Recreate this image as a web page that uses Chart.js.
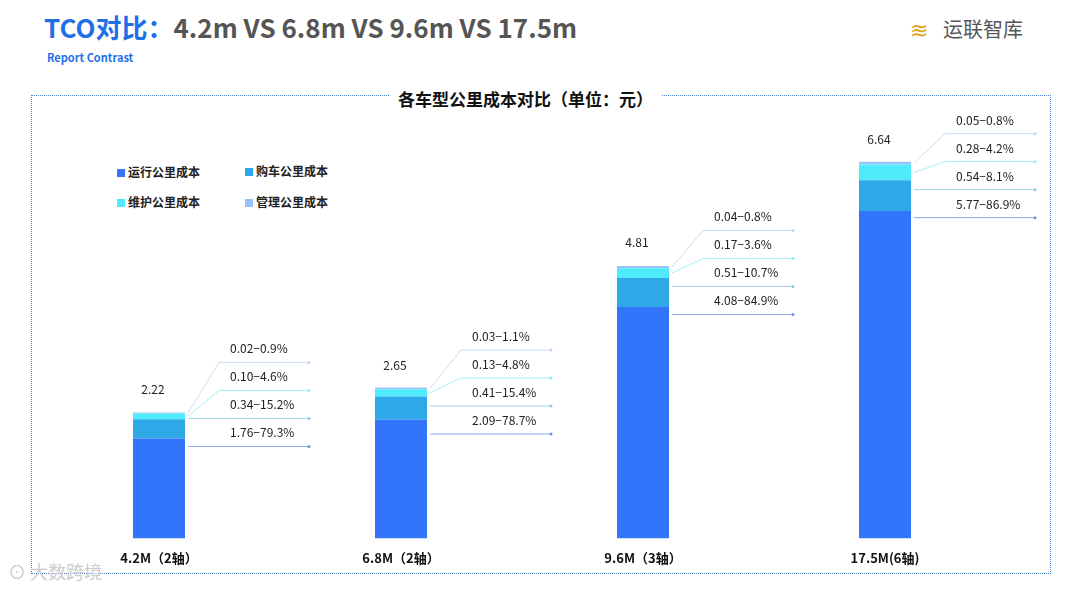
<!DOCTYPE html>
<html><head><meta charset="utf-8">
<script src="https://cdn.jsdelivr.net/npm/chart.js@4"></script>
<style>
body{margin:0;width:1080px;height:589px;background:#fff;font-family:"Noto Sans CJK SC","Noto Sans",sans-serif;position:relative;overflow:hidden}
#c{position:absolute;left:0;top:0}
.abs{position:absolute;white-space:nowrap}
.box{position:absolute;left:31px;top:95px;width:1018px;height:477px;border:1px dotted #4a7fc8}
.lg{position:absolute;font-size:12px;font-weight:bold;color:#222}
.lg i{display:inline-block;width:8px;height:8px;margin-right:3px;vertical-align:0}
</style></head><body>
<div class="box"></div>
<div class="abs" style="left:44px;top:8px;font-size:26px;font-weight:bold;color:#1F6FE8">TCO对比：<span style="color:#555">4.2m VS 6.8m VS 9.6m VS 17.5m</span></div>
<div class="abs" style="left:47px;top:49px;font-size:11px;font-weight:bold;color:#1F6FE8">Report Contrast</div>
<div class="abs" style="left:943px;top:14px;font-size:20px;color:#555">运联智库</div>
<div class="abs" style="left:910px;top:12px;font-size:22px;color:#e0a020">≋</div>
<div class="abs" style="left:390px;top:86px;font-size:17px;font-weight:bold;color:#111;background:#fff;padding:0 8px">各车型公里成本对比（单位：元）</div>
<div class="lg" style="left:117px;top:163px"><i style="background:#3275FA"></i>运行公里成本</div>
<div class="lg" style="left:245px;top:162px"><i style="background:#2FA8E8"></i>购车公里成本</div>
<div class="lg" style="left:117px;top:193px"><i style="background:#4DEBFB"></i>维护公里成本</div>
<div class="lg" style="left:245px;top:193px"><i style="background:#9CC3F7"></i>管理公里成本</div>
<div class="abs" style="left:8px;top:558px;font-size:18px;color:#ccc">⊙ 大数跨境</div>
<canvas id="c" width="1080" height="589"></canvas>
<script>
const categories=["4.2M（2轴）","6.8M（2轴）","9.6M（3轴）","17.5M(6轴)"];
const runCost=[1.76,2.09,4.08,5.77];
const buyCost=[0.34,0.41,0.51,0.54];
const maintCost=[0.10,0.13,0.17,0.28];
const mgmtCost=[0.02,0.03,0.04,0.05];
const totals=[2.22,2.65,4.81,6.64];
const runPct=["79.3%","78.7%","84.9%","86.9%"];
const buyPct=["15.2%","15.4%","10.7%","8.1%"];
const maintPct=["4.6%","4.8%","3.6%","4.2%"];
const mgmtPct=["0.9%","1.1%","0.8%","0.8%"];
const topOffset=[50,38,35,28];
const colors=["#3275FA","#2FA8E8","#4DEBFB","#9CC3F7"];
const lineColors=["#6a92de","#8cc8ea","#8eeaf2","#bcd4f2"];
const annot={id:'annot',afterDatasetsDraw(ch){
  const c=ch.ctx,xs=ch.scales.x,ys=ch.scales.y;
  const vals=[runCost,buyCost,maintCost,mgmtCost],pcts=[runPct,buyPct,maintPct,mgmtPct];
  c.save();
  categories.forEach((_,i)=>{
    const cx=xs.getPixelForValue(i),edge=cx+29;
    c.font='12px "Noto Sans CJK SC"';c.fillStyle='#222';c.textAlign='center';c.textBaseline='alphabetic';
    c.fillText(totals[i].toFixed(2),cx-6,ys.getPixelForValue(totals[i])-18);
    let base=0;const topLine=ys.getPixelForValue(totals[i])-topOffset[i];
    for(let s=0;s<4;s++){
      const v=vals[s][i];const mid=ys.getPixelForValue(base+v/2);base+=v;
      const ly=topLine+(3-s)*28;
      c.strokeStyle=lineColors[s];c.lineWidth=0.8;
      c.beginPath();
      if(s<2){c.moveTo(edge,ly);}else{c.moveTo(edge,mid);c.lineTo(cx+60,ly);}
      c.lineTo(cx+150,ly);c.stroke();
      c.fillStyle=lineColors[s];c.beginPath();c.arc(cx+150,ly,1.5,0,7);c.fill();
      c.fillStyle='#222';c.textAlign='left';
      c.fillText(v.toFixed(2)+'−'+pcts[s][i],cx+71,ly-9);
    }
  });
  c.restore();
}};
new Chart(document.getElementById('c'),{type:'bar',
 data:{labels:categories,datasets:[
  {label:'运行公里成本',data:runCost,backgroundColor:colors[0]},
  {label:'购车公里成本',data:buyCost,backgroundColor:colors[1]},
  {label:'维护公里成本',data:maintCost,backgroundColor:colors[2]},
  {label:'管理公里成本',data:mgmtCost,backgroundColor:colors[3]}]},
 options:{responsive:false,animation:false,
  layout:{padding:{left:38,right:74,top:110,bottom:19}},
  datasets:{bar:{barPercentage:0.215,categoryPercentage:1}},
  plugins:{legend:{display:false},tooltip:{enabled:false}},
  scales:{x:{stacked:true,grid:{display:false},border:{display:false},
     ticks:{color:'#111',font:{size:13,weight:'bold',family:'"Noto Sans CJK SC"'},padding:4}},
   y:{stacked:true,display:false,min:0,max:7.55}}},
 plugins:[annot]});
</script></body></html>
